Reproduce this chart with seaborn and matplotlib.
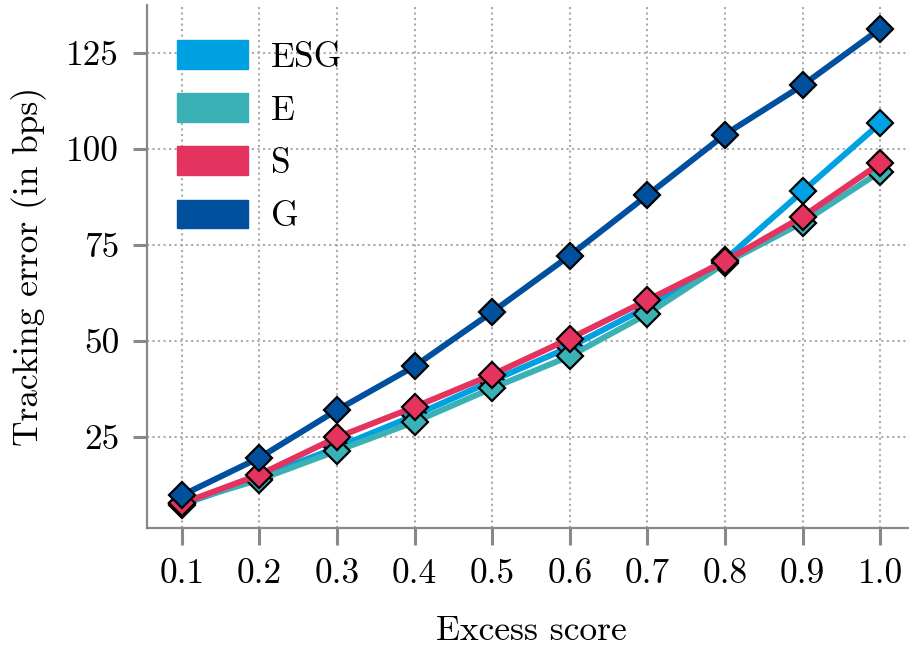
import matplotlib
matplotlib.use("Agg")
import matplotlib.pyplot as plt
from matplotlib.patches import Patch
import numpy as np
import pandas as pd
import seaborn as sns

# Excess score thresholds and tracking error per factor (bps)
excess_score = [0.1, 0.2, 0.3, 0.4, 0.5, 0.6, 0.7, 0.8, 0.9, 1.0]
te_esg = [7.4, 14.4, 22.3, 30.6, 39.6, 48.4, 58.8, 71.1, 88.9, 106.6]
te_e = [7.8, 13.9, 21.4, 28.9, 37.7, 46.0, 57.0, 70.2, 80.8, 94.0]
te_s = [7.7, 15.2, 24.9, 32.8, 41.2, 50.6, 60.6, 70.7, 82.3, 96.2]
te_g = [9.8, 19.6, 32.0, 43.4, 57.5, 72.2, 87.9, 103.7, 116.5, 131.2]

factors = ["ESG", "E", "S", "G"]
colors = ["#00A1E2", "#3AB1B5", "#E5335F", "#00509E"]
y_ticks = [25, 50, 75, 100, 125]

df = pd.DataFrame({
    "score": excess_score * 4,
    "te": te_esg + te_e + te_s + te_g,
    "factor": np.repeat(factors, len(excess_score)),
})

sns.set_theme(style="white")
plt.rcParams["font.family"] = ["serif"]
plt.rcParams["font.serif"] = ["cmr10"]
plt.rcParams["mathtext.fontset"] = "cm"
plt.rcParams["axes.formatter.use_mathtext"] = True
for key in ["text.color", "axes.labelcolor", "xtick.labelcolor", "ytick.labelcolor"]:
    plt.rcParams[key] = "black"

fs = 25.5
fig = plt.figure(figsize=(9.09, 6.47), dpi=100)
ax = fig.add_axes([147 / 909, 1 - 528 / 647, 768 / 909, 523 / 647])

sns.lineplot(
    data=df, x="score", y="te", hue="factor", hue_order=factors,
    palette=colors, marker="D", markersize=13.5, markeredgecolor="black",
    markeredgewidth=1.6, linewidth=4.3, legend=False, ax=ax,
)

ax.set_xlim(0.055, 1.045)
ax.set_ylim(1.3, 137.4)
ax.set_xticks(excess_score)
ax.set_xticklabels([f"{v:.1f}" for v in excess_score])
ax.set_yticks(y_ticks)
ax.set_yticklabels([str(v) for v in y_ticks])

ax.grid(True, linestyle=":", color="#aaaaaa", linewidth=1.5)
ax.set_axisbelow(True)
for side in ["top", "right"]:
    ax.spines[side].set_visible(False)
for side in ["left", "bottom"]:
    ax.spines[side].set_color("#888888")
    ax.spines[side].set_linewidth(1.6)

ax.tick_params(axis="x", length=12, width=2.2, color="#888888",
               labelsize=fs, labelcolor="black", pad=10, bottom=True)
ax.tick_params(axis="y", length=10, width=2.2, color="#888888",
               labelsize=fs, labelcolor="black", pad=10, left=True)

ax.set_xlabel("Excess score", fontsize=fs, labelpad=18, color="black")
ax.set_ylabel("Tracking error (in bps)", fontsize=fs, labelpad=14, color="black")

handles = [Patch(facecolor=c, edgecolor=c, label=f) for f, c in zip(factors, colors)]
leg = ax.legend(handles=handles, loc="upper left", frameon=False, fontsize=fs,
                handlelength=2.0, handleheight=0.87, labelspacing=0.55,
                handletextpad=0.65, borderaxespad=0.45, bbox_to_anchor=(0.0, 0.99))
for t in leg.get_texts():
    t.set_color("black")

fig.savefig("out.png", dpi=100)
